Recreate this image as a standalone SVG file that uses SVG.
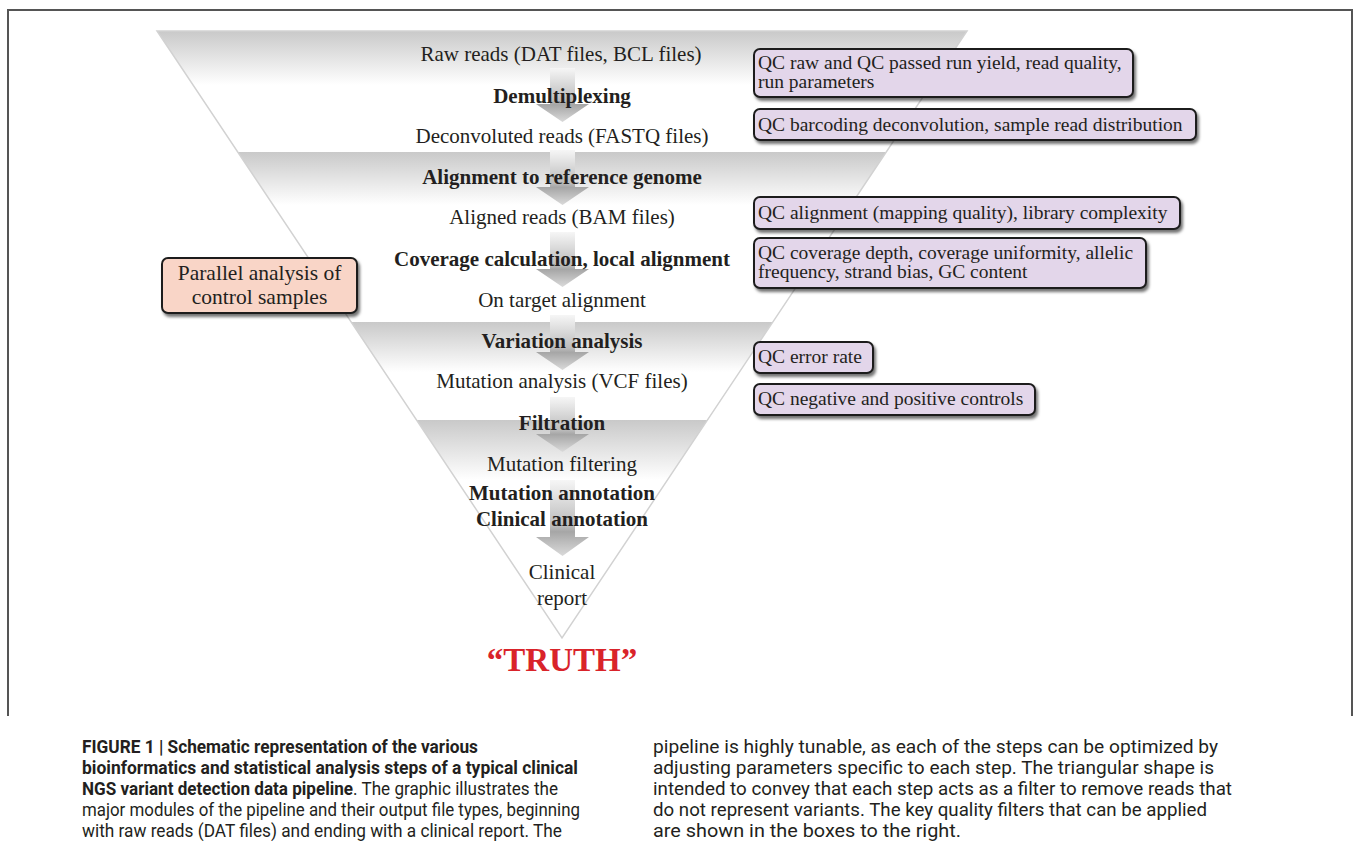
<svg xmlns="http://www.w3.org/2000/svg" width="1354" height="841" viewBox="0 0 1354 841">
<style>
.t{font-family:"Liberation Serif","Times New Roman",serif;font-size:21px;fill:#231f20;text-anchor:middle}
.b{font-weight:bold}
.qc{font-family:"Liberation Serif","Times New Roman",serif;font-size:19.5px;fill:#231f20}
.qbox{fill:#e3d6ea;stroke:#1e1e1e;stroke-width:2;filter:url(#sh)}
.pbox{fill:#f9d5c7;stroke:#1e1e1e;stroke-width:2;filter:url(#sh)}
.arrow{fill:url(#ag)}
.cap{font-family:"Liberation Sans Narrow","Roboto","Liberation Sans",sans-serif;font-size:17.5px;fill:#231f20}
</style>
<defs>
<filter id="sh" x="-10%" y="-30%" width="120%" height="160%">
<feDropShadow dx="2" dy="3" stdDeviation="1.8" flood-color="#000" flood-opacity="0.55"/>
</filter>
<linearGradient id="ag" x1="0" y1="0" x2="0" y2="1">
<stop offset="0" stop-color="#f6f6f6"/>
<stop offset="0.6" stop-color="#bcbcbc"/>
<stop offset="0.68" stop-color="#a6a6a6"/>
<stop offset="1" stop-color="#dadada"/>
</linearGradient>
<linearGradient id="g1" gradientUnits="userSpaceOnUse" x1="0" y1="31" x2="0" y2="85">
<stop offset="0" stop-color="#c9c9c9"/><stop offset="1" stop-color="#ffffff"/>
</linearGradient>
<linearGradient id="g2" gradientUnits="userSpaceOnUse" x1="0" y1="152" x2="0" y2="205">
<stop offset="0" stop-color="#c9c9c9"/><stop offset="1" stop-color="#ffffff"/>
</linearGradient>
<linearGradient id="g3" gradientUnits="userSpaceOnUse" x1="0" y1="322" x2="0" y2="372">
<stop offset="0" stop-color="#c9c9c9"/><stop offset="1" stop-color="#ffffff"/>
</linearGradient>
<linearGradient id="g4" gradientUnits="userSpaceOnUse" x1="0" y1="420" x2="0" y2="480">
<stop offset="0" stop-color="#c9c9c9"/><stop offset="1" stop-color="#ffffff"/>
</linearGradient>
</defs>
<rect width="1354" height="841" fill="#ffffff"/>
<polyline points="8,716 8,10 1352,10 1352,716" fill="none" stroke="#555" stroke-width="2"/>

<g id="funnel">
<polygon points="157,31 967,31 886.3,152 237.7,152" fill="url(#g1)"/>
<polygon points="237.7,152 886.3,152 772.8,322 351.2,322" fill="url(#g2)"/>
<polygon points="351.2,322 772.8,322 707.5,420 416.5,420" fill="url(#g3)"/>
<polygon points="416.5,420 707.5,420 562,638" fill="url(#g4)"/>
<polygon points="157,31 967,31 562,638" fill="none" stroke="#d2d2d2" stroke-width="1.5"/>
</g>

<g id="connectors">
<path class="arrow" d="M550,68 H575 V104 H589 L562.5,122 L536,104 H550 Z"/>
<path class="arrow" d="M550,150 H575 V187 H589 L562.5,205 L536,187 H550 Z"/>
<path class="arrow" d="M550,232 H575 V269 H589 L562.5,287 L536,269 H550 Z"/>
<path class="arrow" d="M550,315 H575 V352 H589 L562.5,370 L536,352 H550 Z"/>
<path class="arrow" d="M550,397 H575 V434 H589 L562.5,452 L536,434 H550 Z"/>
<path class="arrow" d="M550,480 H575 V537 H589 L562.5,556 L536,537 H550 Z"/>
</g>

<g id="n-raw"><text class="t" x="561" y="61">Raw reads (DAT files, BCL files)</text></g>
<g id="n-demux"><text class="t b" x="562" y="103">Demultiplexing</text></g>
<g id="n-decon"><text class="t" x="562" y="143">Deconvoluted reads (FASTQ files)</text></g>
<g id="n-align"><text class="t b" x="562" y="184">Alignment to reference genome</text></g>
<g id="n-bam"><text class="t" x="562" y="224">Aligned reads (BAM files)</text></g>
<g id="n-cov"><text class="t b" x="562" y="266">Coverage calculation, local alignment</text></g>
<g id="n-target"><text class="t" x="562" y="307">On target alignment</text></g>
<g id="n-var"><text class="t b" x="562" y="348">Variation analysis</text></g>
<g id="n-vcf"><text class="t" x="562" y="388">Mutation analysis (VCF files)</text></g>
<g id="n-filt"><text class="t b" x="562" y="430">Filtration</text></g>
<g id="n-mfilt"><text class="t" x="562" y="471">Mutation filtering</text></g>
<g id="n-mann"><text class="t b" x="562" y="500">Mutation annotation</text></g>
<g id="n-cann"><text class="t b" x="562" y="526">Clinical annotation</text></g>
<g id="n-report"><text class="t" x="562" y="579">Clinical</text><text class="t" x="562" y="605">report</text></g>
<g id="n-truth"><text x="562" y="671" style="font-family:'Liberation Serif','Times New Roman',serif;font-size:33px;font-weight:bold;fill:#d9232a;text-anchor:middle">“TRUTH”</text></g>

<g id="n-parallel">
<rect class="pbox" x="162" y="258" width="195" height="55" rx="6"/>
<text class="t" x="259.5" y="280" style="font-size:21.5px">Parallel analysis of</text>
<text class="t" x="259.5" y="304" style="font-size:21.5px">control samples</text>
</g>

<g id="qc1">
<rect class="qbox" x="754" y="49" width="379" height="48" rx="6"/>
<text class="qc" x="758" y="69">QC raw and QC passed run yield, read quality,</text>
<text class="qc" x="758" y="88">run parameters</text>
</g>
<g id="qc2">
<rect class="qbox" x="754" y="109" width="442" height="31" rx="6"/>
<text class="qc" x="758" y="131">QC barcoding deconvolution, sample read distribution</text>
</g>
<g id="qc3">
<rect class="qbox" x="754" y="197" width="426" height="32" rx="6"/>
<text class="qc" x="758" y="219">QC alignment (mapping quality), library complexity</text>
</g>
<g id="qc4">
<rect class="qbox" x="754" y="238" width="392" height="50" rx="6"/>
<text class="qc" x="758" y="259">QC coverage depth, coverage uniformity, allelic</text>
<text class="qc" x="758" y="278">frequency, strand bias, GC content</text>
</g>
<g id="qc5">
<rect class="qbox" x="754" y="342" width="119" height="31" rx="6"/>
<text class="qc" x="758" y="363">QC error rate</text>
</g>
<g id="qc6">
<rect class="qbox" x="754" y="384" width="281" height="31" rx="6"/>
<text class="qc" x="758" y="405">QC negative and positive controls</text>
</g>

<g id="caption">
<text class="cap" x="82" y="753" font-weight="bold" textLength="396" lengthAdjust="spacingAndGlyphs">FIGURE 1 | Schematic representation of the various</text>
<text class="cap" x="82" y="774" font-weight="bold" textLength="496" lengthAdjust="spacingAndGlyphs">bioinformatics and statistical analysis steps of a typical clinical</text>
<text class="cap" x="82" y="795" textLength="476" lengthAdjust="spacingAndGlyphs"><tspan font-weight="bold">NGS variant detection data pipeline</tspan>. The graphic illustrates the</text>
<text class="cap" x="82" y="816" textLength="498" lengthAdjust="spacingAndGlyphs">major modules of the pipeline and their output file types, beginning</text>
<text class="cap" x="82" y="837" textLength="480" lengthAdjust="spacingAndGlyphs">with raw reads (DAT files) and ending with a clinical report. The</text>
<text class="cap" x="653" y="753" textLength="565" lengthAdjust="spacingAndGlyphs">pipeline is highly tunable, as each of the steps can be optimized by</text>
<text class="cap" x="653" y="774" textLength="561" lengthAdjust="spacingAndGlyphs">adjusting parameters specific to each step. The triangular shape is</text>
<text class="cap" x="653" y="795" textLength="579" lengthAdjust="spacingAndGlyphs">intended to convey that each step acts as a filter to remove reads that</text>
<text class="cap" x="653" y="816" textLength="554" lengthAdjust="spacingAndGlyphs">do not represent variants. The key quality filters that can be applied</text>
<text class="cap" x="653" y="837" textLength="308" lengthAdjust="spacingAndGlyphs">are shown in the boxes to the right.</text>
</g>
</svg>
